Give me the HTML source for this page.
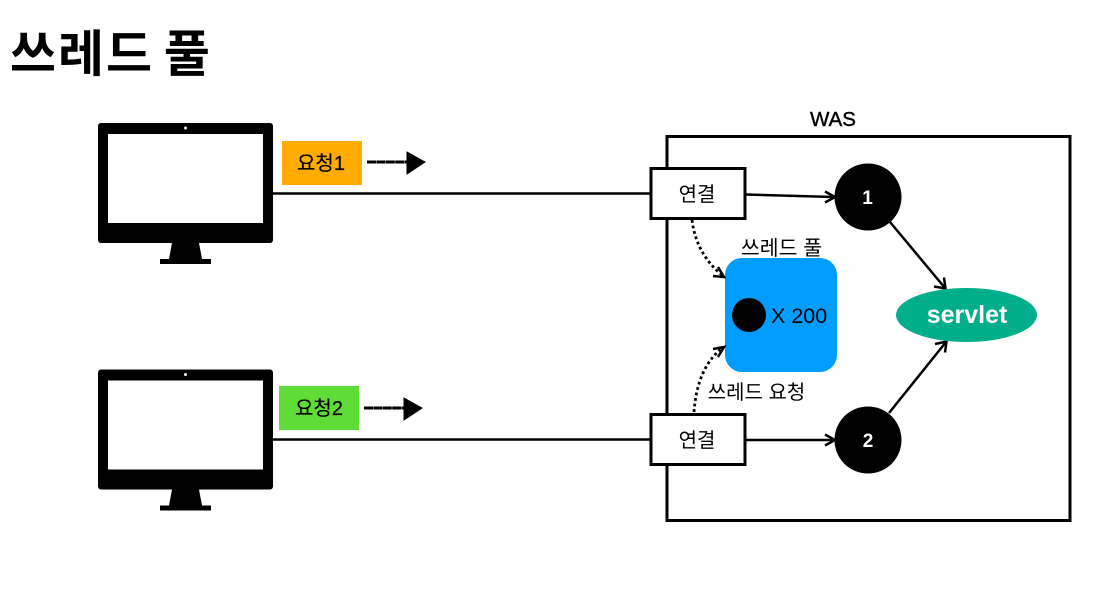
<!DOCTYPE html>
<html lang="ko">
<head>
<meta charset="utf-8">
<title>쓰레드 풀</title>
<style>
html,body{margin:0;padding:0;background:#fff;width:1119px;height:590px;overflow:hidden}
svg{display:block}
text{font-family:"Liberation Sans","Noto Sans CJK KR",sans-serif;fill:#000}
</style>
</head>
<body>
<svg width="1119" height="590" viewBox="0 0 1119 590" xmlns="http://www.w3.org/2000/svg">
<defs>
<g id="mon">
<rect x="98" y="123" width="175" height="120" rx="3" fill="#000"/>
<rect x="108" y="134" width="155" height="89" fill="#fff"/>
<circle cx="185.500" cy="128" r="1.500" fill="#fff"/>
<path d="M172 243H199L202 259H211V264H160V259H169Z" fill="#000"/>
</g>
</defs>

<text x="10" y="71.500" font-size="50" font-weight="700" letter-spacing="2" word-spacing="-6">쓰레드 풀</text>

<use href="#mon"/>
<use href="#mon" y="246.500"/>

<rect x="667" y="136.500" width="403" height="384" fill="none" stroke="#000" stroke-width="3"/>
<text x="833" y="126" font-size="20.500" text-anchor="middle" stroke="#000" stroke-width=".4">WAS</text>

<path d="M273 193.500H651M273 439.500H651" stroke="#000" stroke-width="2.500" fill="none"/>

<rect x="282" y="141" width="80" height="44" fill="#ffab00"/>
<text x="321" y="170" font-size="20" text-anchor="middle" stroke="#000" stroke-width=".2">요청1</text>
<rect x="279" y="386" width="80" height="44" fill="#5fdc35"/>
<text x="319" y="415" font-size="20" text-anchor="middle" stroke="#000" stroke-width=".2">요청2</text>

<path d="M367 162H408" stroke="#000" stroke-width="3" stroke-dasharray="9 .4"/>
<path d="M407 152L425 162L407 174Z" fill="#000" stroke="#000"/>
<path d="M364 408H405" stroke="#000" stroke-width="3" stroke-dasharray="9 .4"/>
<path d="M404 398L422 408L404 420Z" fill="#000" stroke="#000"/>

<rect x="651" y="168.500" width="94" height="50" fill="#fff" stroke="#000" stroke-width="3"/>
<text x="697" y="201" font-size="20" text-anchor="middle">연결</text>
<rect x="651" y="414.500" width="94" height="50" fill="#fff" stroke="#000" stroke-width="3"/>
<text x="697" y="447" font-size="20" text-anchor="middle">연결</text>

<rect x="725" y="258" width="112" height="114" rx="17" fill="#009dff"/>
<circle cx="749" cy="315" r="17" fill="#000"/>
<text x="771" y="323" font-size="21.500">X 200</text>
<text x="781.500" y="255" font-size="20.500" text-anchor="middle">쓰레드 풀</text>
<text x="756.500" y="399" font-size="20" text-anchor="middle">쓰레드 요청</text>

<path d="M692 220C695 244 706 262 722 275" fill="none" stroke="#000" stroke-width="2.800" stroke-dasharray="2.800 2.800"/>
<path d="M713 276L724 277L718 267" fill="none" stroke="#000" stroke-width="2.500"/>
<path d="M694 412C696 385 704 363 721 349" fill="none" stroke="#000" stroke-width="2.800" stroke-dasharray="2.800 2.800"/>
<path d="M713 349L724 347L718 357" fill="none" stroke="#000" stroke-width="2.500"/>

<path d="M746 194.500L834 197" fill="none" stroke="#000" stroke-width="2.500"/>
<path d="M825 191.500L835 197L825 202.500" fill="none" stroke="#000" stroke-width="2.500"/>
<path d="M746 440H834" fill="none" stroke="#000" stroke-width="2.500"/>
<path d="M825 434.500L835 440L825 445.500" fill="none" stroke="#000" stroke-width="2.500"/>

<circle cx="868" cy="197" r="33.500" fill="#000"/>
<text x="867.500" y="204" font-size="19" style="fill:#fff" text-anchor="middle" font-weight="700">1</text>
<circle cx="868" cy="440" r="33.500" fill="#000"/>
<text x="868" y="447" font-size="19" style="fill:#fff" text-anchor="middle" font-weight="700">2</text>

<path d="M890 222L945 288" fill="none" stroke="#000" stroke-width="2.500"/>
<path d="M934 286.500L945.500 288.500L944 277.500" fill="none" stroke="#000" stroke-width="2.500"/>
<path d="M889 413L946 342" fill="none" stroke="#000" stroke-width="2.500"/>
<path d="M935 344L946.500 341.500L945 352.500" fill="none" stroke="#000" stroke-width="2.500"/>

<ellipse cx="966.500" cy="315" rx="70.500" ry="27" fill="#00ae8c"/>
<text x="967" y="323" font-size="25" font-weight="700" style="fill:#fff" text-anchor="middle">servlet</text>
</svg>
</body>
</html>
